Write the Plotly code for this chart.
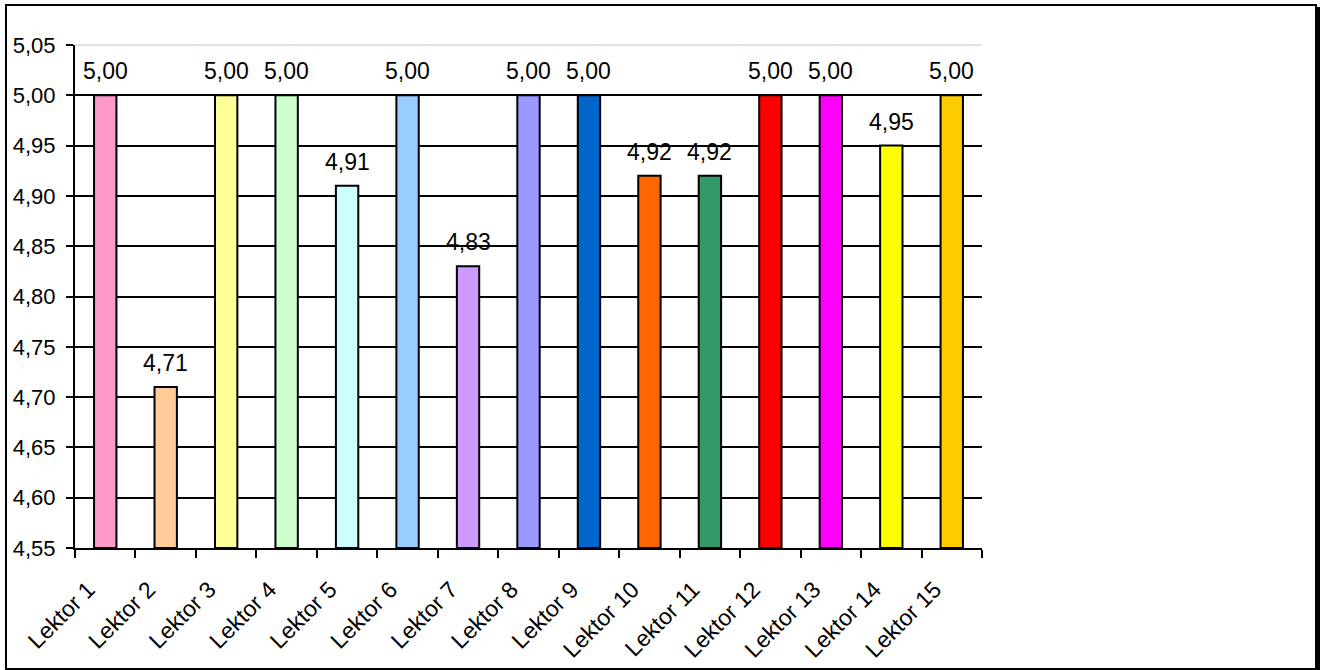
import plotly.graph_objects as go

categories = [f"Lektor {i}" for i in range(1, 16)]
values = [5.00, 4.71, 5.00, 5.00, 4.91, 5.00, 4.83, 5.00, 5.00, 4.92, 4.92, 5.00, 5.00, 4.95, 5.00]
colors = ["#FF99CC", "#FFCC99", "#FFFF99", "#CCFFCC", "#CCFFFF", "#99CCFF", "#CC99FF",
          "#9999FF", "#0066CC", "#FF6600", "#339966", "#FF0000", "#FF00FF", "#FFFF00", "#FFCC00"]
y_ticks = [4.55, 4.60, 4.65, 4.70, 4.75, 4.80, 4.85, 4.90, 4.95, 5.00, 5.05]

FONT = "Liberation Sans, Arial, sans-serif"
W, H = 1324, 670
# plot area in page pixels: x 75..982, y 45..548
L, T = 75, 45
R = W - 982
B = H - 548
pw, ph = W - L - R, H - T - B

fig = go.Figure()
fig.add_trace(go.Bar(
    x=categories, y=[v - y_ticks[0] for v in values], base=y_ticks[0],
    marker=dict(color=colors, line=dict(color="black", width=2)),
    width=0.37, hoverinfo="skip",
))

for c, v in zip(categories, values):
    fig.add_annotation(x=c, y=v, text=f"{v:.2f}".replace(".", ","), showarrow=False,
                       yanchor="bottom", yshift=9,
                       font=dict(family=FONT, size=23, color="black"))

def px_x(p):
    return (p - L) / pw

def px_y(p):
    return (H - B - p) / ph

# outer chart border with shadow
fig.add_shape(type="rect", xref="paper", yref="paper",
              x0=px_x(9), x1=px_x(1319), y0=px_y(672), y1=px_y(8),
              line=dict(color="black", width=2), fillcolor="black", layer="below")
fig.add_shape(type="rect", xref="paper", yref="paper",
              x0=px_x(6), x1=px_x(1316), y0=px_y(669), y1=px_y(5),
              line=dict(color="black", width=2), fillcolor="white", layer="below")
# top plot border (light gray)
fig.add_shape(type="line", xref="paper", yref="paper", x0=0, x1=1, y0=1, y1=1,
              line=dict(color="#C0C0C0", width=1))

fig.update_layout(
    width=W, height=H,
    margin=dict(l=L, r=R, t=T, b=B, autoexpand=False),
    paper_bgcolor="white", plot_bgcolor="rgba(0,0,0,0)",
    showlegend=False,
    font=dict(family=FONT, size=22, color="black"),
)
fig.update_xaxes(
    type="category", tickson="boundaries", ticks="outside", ticklen=8, tickwidth=2,
    tickcolor="black", showline=True, linecolor="black", linewidth=2,
    showgrid=False, tickangle=-45, tickfont=dict(family=FONT, size=23),
    ticklabelshift=-17, ticklabelstandoff=17,
    range=[-0.5, 14.5],
)
fig.update_yaxes(
    range=[4.55, 5.05], tickvals=y_ticks,
    ticktext=[f"{t:.2f}".replace(".", ",") for t in y_ticks],
    ticks="outside", ticklen=7, tickwidth=2, tickcolor="black", ticklabelstandoff=6,
    showline=True, linecolor="black", linewidth=2,
    showgrid=True, gridcolor="black", gridwidth=2, zeroline=False,
    tickfont=dict(family=FONT, size=22),
)

fig.write_html("out.html", config={"displayModeBar": False},
               post_script="document.body.style.margin='0';document.body.style.overflow='hidden';")
